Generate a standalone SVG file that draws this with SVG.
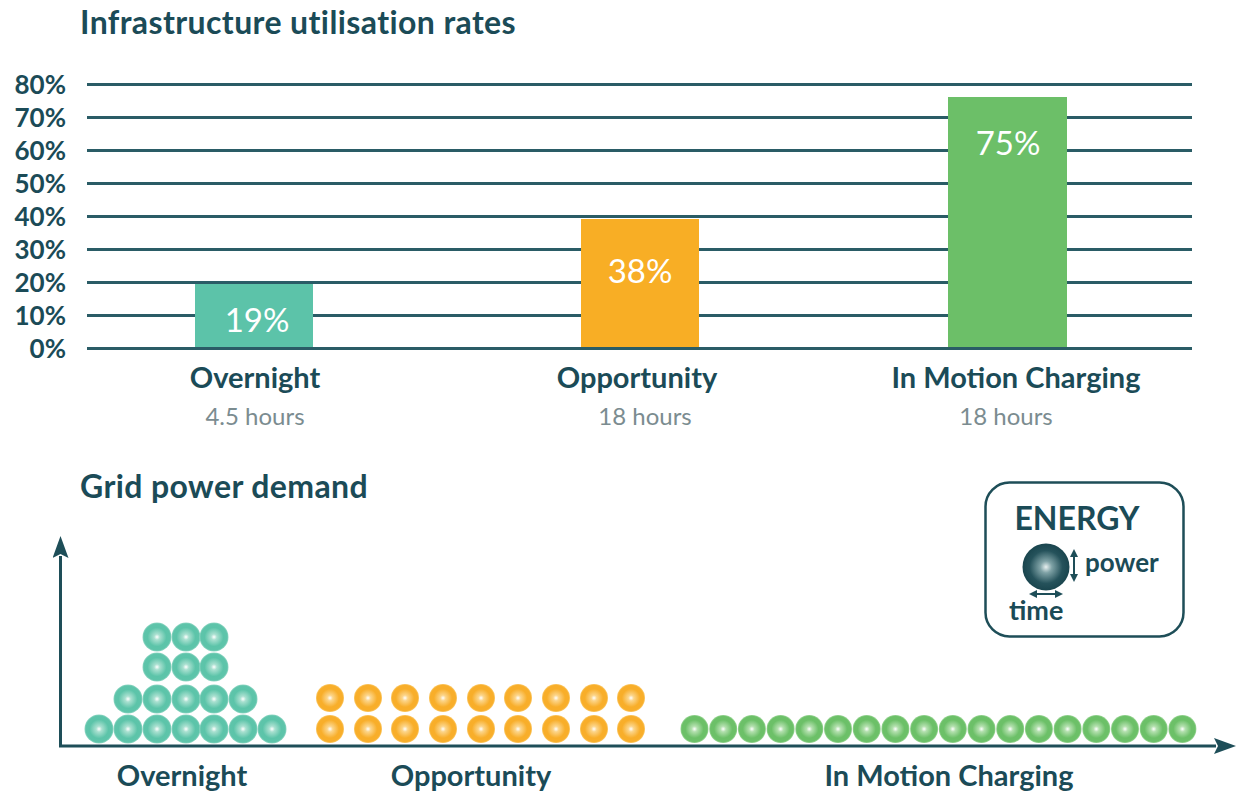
<svg xmlns="http://www.w3.org/2000/svg" width="1244" height="799" viewBox="0 0 1244 799">
<style>
text{font-family:Lato,"Open Sans","Liberation Sans",sans-serif;fill:#1b4b57}
.title{font-size:32px;font-weight:700;letter-spacing:0.4px}
.ylab{font-size:26px;font-weight:700;text-anchor:end}
.val{font-size:33px;fill:#ffffff;text-anchor:middle}
.cat{font-size:29px;font-weight:700;text-anchor:middle}
.hrs{font-size:24px;fill:#7b8c90;text-anchor:middle}
.grid{stroke:#2a5c66;stroke-width:3}
.axis{stroke:#1e4e58;stroke-width:3;fill:none}
.tS{fill:url(#gT)}
.oS{fill:url(#gO)}
.gS{fill:url(#gG)}
</style>
<defs>
<radialGradient id="gT" cx="0.5" cy="0.5" r="0.5">
<stop offset="0" stop-color="#ffffff"/>
<stop offset="0.2" stop-color="#a9e0d0"/>
<stop offset="0.65" stop-color="#5cc4a9"/>
<stop offset="0.9" stop-color="#5ec4aa"/>
<stop offset="1" stop-color="#8fd6c3"/>
</radialGradient>
<radialGradient id="gO" cx="0.5" cy="0.5" r="0.5">
<stop offset="0" stop-color="#ffffff"/>
<stop offset="0.2" stop-color="#fcd58a"/>
<stop offset="0.65" stop-color="#f8ae2a"/>
<stop offset="0.9" stop-color="#f8ae2a"/>
<stop offset="1" stop-color="#fbc866"/>
</radialGradient>
<radialGradient id="gG" cx="0.5" cy="0.5" r="0.5">
<stop offset="0" stop-color="#ffffff"/>
<stop offset="0.2" stop-color="#b3e0ae"/>
<stop offset="0.65" stop-color="#6cc068"/>
<stop offset="0.9" stop-color="#6cc068"/>
<stop offset="1" stop-color="#9ad596"/>
</radialGradient>
<radialGradient id="gE" cx="0.5" cy="0.5" r="0.5">
<stop offset="0" stop-color="#e8f0f0"/>
<stop offset="0.25" stop-color="#7fa2a6"/>
<stop offset="0.7" stop-color="#25525b"/>
<stop offset="1" stop-color="#1a454e"/>
</radialGradient>
<marker id="axArrow" viewBox="0 0 22 16" refX="2" refY="8" markerWidth="22" markerHeight="16" markerUnits="userSpaceOnUse" orient="auto">
<path d="M0,0 L22,8 L0,16 L4,8 Z" fill="#1e4e58"/>
</marker>
<marker id="smArrow" viewBox="0 0 8 8" refX="6" refY="4" markerWidth="8" markerHeight="8" markerUnits="userSpaceOnUse" orient="auto-start-reverse">
<path d="M0,0 L8,4 L0,8 Z" fill="#1e4e58"/>
</marker>
</defs>

<g id="title-utilisation"><text class="title" x="80" y="34">Infrastructure utilisation rates</text></g>

<g id="gridlines">
<line class="grid" x1="87" y1="84.5" x2="1192" y2="84.5"/>
<line class="grid" x1="87" y1="117.5" x2="1192" y2="117.5"/>
<line class="grid" x1="87" y1="150.5" x2="1192" y2="150.5"/>
<line class="grid" x1="87" y1="183.5" x2="1192" y2="183.5"/>
<line class="grid" x1="87" y1="216.5" x2="1192" y2="216.5"/>
<line class="grid" x1="87" y1="249.5" x2="1192" y2="249.5"/>
<line class="grid" x1="87" y1="282.5" x2="1192" y2="282.5"/>
<line class="grid" x1="87" y1="315.5" x2="1192" y2="315.5"/>
</g>

<g id="y-labels">
<text class="ylab" x="66" y="94">80%</text>
<text class="ylab" x="66" y="127">70%</text>
<text class="ylab" x="66" y="160">60%</text>
<text class="ylab" x="66" y="193">50%</text>
<text class="ylab" x="66" y="226">40%</text>
<text class="ylab" x="66" y="259">30%</text>
<text class="ylab" x="66" y="292">20%</text>
<text class="ylab" x="66" y="325">10%</text>
<text class="ylab" x="66" y="358">0%</text>
</g>

<g id="bar-overnight">
<rect x="195" y="284" width="118" height="64" fill="#5cc3a9"/>
<text class="val" x="257" y="332">19%</text>
</g>
<g id="bar-opportunity">
<rect x="581" y="219" width="118" height="129" fill="#f8ae25"/>
<text class="val" x="640" y="283">38%</text>
</g>
<g id="bar-inmotion">
<rect x="948" y="97" width="119" height="251" fill="#6cbf68"/>
<text class="val" x="1008" y="155">75%</text>
</g>
<g id="baseline"><line class="grid" x1="87" y1="348.5" x2="1192" y2="348.5"/></g>

<g id="cat-labels">
<text class="cat" x="255" y="388">Overnight</text>
<text class="hrs" x="255" y="425">4.5 hours</text>
<text class="cat" x="637" y="388">Opportunity</text>
<text class="hrs" x="645" y="425">18 hours</text>
<text class="cat" x="1016" y="388">In Motion Charging</text>
<text class="hrs" x="1006" y="425">18 hours</text>
</g>

<g id="title-grid"><text class="title" x="80" y="498">Grid power demand</text></g>

<g id="axes">
<line class="axis" x1="60.5" y1="747" x2="60.5" y2="556" marker-end="url(#axArrow)"/>
<line class="axis" x1="59" y1="746" x2="1216" y2="746" marker-end="url(#axArrow)"/>
</g>

<g id="spheres-overnight">
<circle class="tS" cx="99" cy="729" r="14.5"/>
<circle class="tS" cx="128" cy="729" r="14.5"/>
<circle class="tS" cx="157" cy="729" r="14.5"/>
<circle class="tS" cx="186" cy="729" r="14.5"/>
<circle class="tS" cx="214" cy="729" r="14.5"/>
<circle class="tS" cx="243" cy="729" r="14.5"/>
<circle class="tS" cx="272" cy="729" r="14.5"/>
<circle class="tS" cx="128" cy="699" r="14.5"/>
<circle class="tS" cx="157" cy="699" r="14.5"/>
<circle class="tS" cx="186" cy="699" r="14.5"/>
<circle class="tS" cx="214" cy="699" r="14.5"/>
<circle class="tS" cx="243" cy="699" r="14.5"/>
<circle class="tS" cx="157" cy="667" r="14.5"/>
<circle class="tS" cx="186" cy="667" r="14.5"/>
<circle class="tS" cx="214" cy="667" r="14.5"/>
<circle class="tS" cx="157" cy="637" r="14.5"/>
<circle class="tS" cx="186" cy="637" r="14.5"/>
<circle class="tS" cx="214" cy="637" r="14.5"/>
</g>

<g id="spheres-opportunity">
<circle class="oS" cx="330" cy="698" r="14"/>
<circle class="oS" cx="368" cy="698" r="14"/>
<circle class="oS" cx="405" cy="698" r="14"/>
<circle class="oS" cx="443" cy="698" r="14"/>
<circle class="oS" cx="481" cy="698" r="14"/>
<circle class="oS" cx="518" cy="698" r="14"/>
<circle class="oS" cx="556" cy="698" r="14"/>
<circle class="oS" cx="594" cy="698" r="14"/>
<circle class="oS" cx="631" cy="698" r="14"/>
<circle class="oS" cx="330" cy="729" r="14"/>
<circle class="oS" cx="368" cy="729" r="14"/>
<circle class="oS" cx="405" cy="729" r="14"/>
<circle class="oS" cx="443" cy="729" r="14"/>
<circle class="oS" cx="481" cy="729" r="14"/>
<circle class="oS" cx="518" cy="729" r="14"/>
<circle class="oS" cx="556" cy="729" r="14"/>
<circle class="oS" cx="594" cy="729" r="14"/>
<circle class="oS" cx="631" cy="729" r="14"/>
</g>

<g id="spheres-inmotion">
<circle class="gS" cx="694.5" cy="729" r="14"/>
<circle class="gS" cx="723.2" cy="729" r="14"/>
<circle class="gS" cx="751.9" cy="729" r="14"/>
<circle class="gS" cx="780.6" cy="729" r="14"/>
<circle class="gS" cx="809.3" cy="729" r="14"/>
<circle class="gS" cx="838" cy="729" r="14"/>
<circle class="gS" cx="866.7" cy="729" r="14"/>
<circle class="gS" cx="895.4" cy="729" r="14"/>
<circle class="gS" cx="924.1" cy="729" r="14"/>
<circle class="gS" cx="952.8" cy="729" r="14"/>
<circle class="gS" cx="981.5" cy="729" r="14"/>
<circle class="gS" cx="1010.2" cy="729" r="14"/>
<circle class="gS" cx="1038.9" cy="729" r="14"/>
<circle class="gS" cx="1067.6" cy="729" r="14"/>
<circle class="gS" cx="1096.3" cy="729" r="14"/>
<circle class="gS" cx="1125" cy="729" r="14"/>
<circle class="gS" cx="1153.7" cy="729" r="14"/>
<circle class="gS" cx="1182.4" cy="729" r="14"/>
</g>

<g id="bottom-labels">
<text class="cat" x="182" y="786">Overnight</text>
<text class="cat" x="471" y="786">Opportunity</text>
<text class="cat" x="949" y="786">In Motion Charging</text>
</g>

<g id="energy-legend">
<rect x="985.5" y="482.5" width="198" height="154" rx="24" fill="#ffffff" stroke="#1e4e58" stroke-width="2.5"/>
<text x="1077" y="530" font-size="32" font-weight="700" text-anchor="middle">ENERGY</text>
<circle cx="1046" cy="567" r="23.5" fill="url(#gE)"/>
<line x1="1074" y1="551" x2="1074" y2="580" stroke="#1e4e58" stroke-width="2" marker-start="url(#smArrow)" marker-end="url(#smArrow)"/>
<line x1="1031" y1="594" x2="1061" y2="594" stroke="#1e4e58" stroke-width="2" marker-start="url(#smArrow)" marker-end="url(#smArrow)"/>
<text x="1085" y="572" font-size="26" font-weight="700">power</text>
<text x="1009" y="620" font-size="27" font-weight="700">time</text>
</g>
</svg>
